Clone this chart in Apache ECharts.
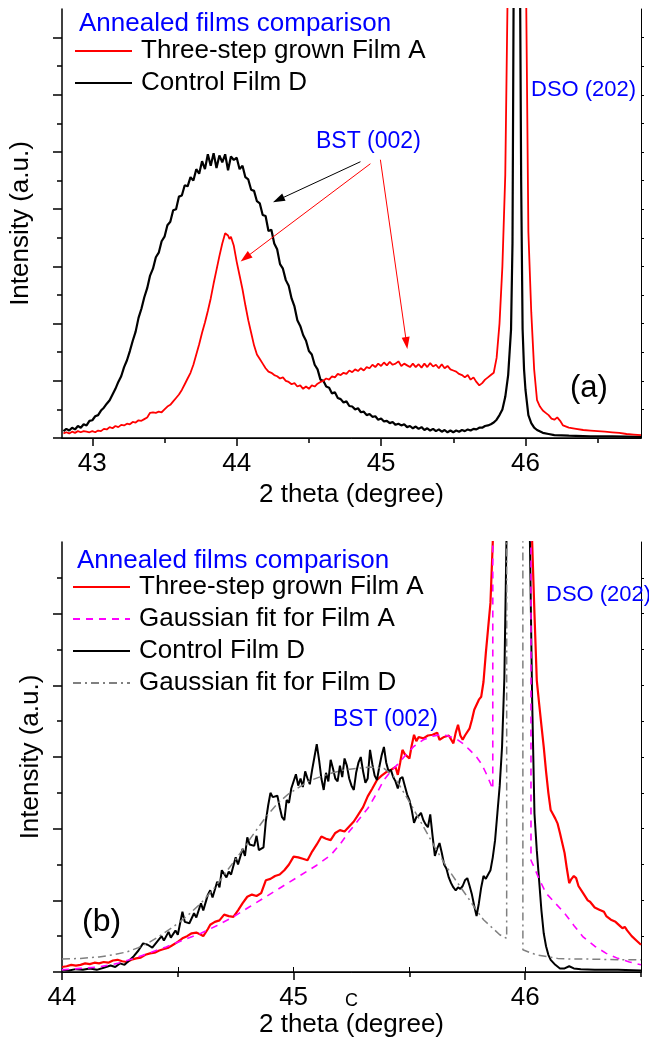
<!DOCTYPE html>
<html>
<head>
<meta charset="utf-8">
<title>Annealed films comparison</title>
<script src="https://cdn.jsdelivr.net/npm/echarts@6/dist/echarts.min.js"></script>
<style>
  html, body { margin: 0; padding: 0; background: #fff; }
  #chart { width: 649px; height: 1040px; }
</style>
</head>
<body>
<div id="chart"></div>
<script>
// ---- panel (a): [2 theta, intensity] ----
const filmD_a = [
  [42.80,0.12],[42.82,0.16],[42.84,0.13],[42.86,0.18],[42.88,0.15],[42.90,0.21],[42.92,0.18],[42.94,0.24],
  [42.96,0.22],[42.98,0.30],[43.00,0.31],[43.02,0.38],[43.04,0.40],[43.06,0.48],[43.08,0.53],[43.10,0.60],
  [43.12,0.66],[43.14,0.76],[43.16,0.86],[43.18,0.98],[43.20,1.08],[43.22,1.24],[43.24,1.36],[43.26,1.52],
  [43.28,1.70],[43.30,1.86],[43.32,2.10],[43.34,2.26],[43.36,2.46],[43.38,2.62],[43.40,2.84],[43.42,2.96],
  [43.44,3.16],[43.46,3.24],[43.48,3.44],[43.50,3.52],[43.52,3.72],[43.54,3.78],[43.56,3.98],[43.58,4.00],
  [43.60,4.22],[43.62,4.24],[43.64,4.42],[43.66,4.40],[43.68,4.56],[43.70,4.50],[43.72,4.70],[43.74,4.62],
  [43.76,4.84],[43.78,4.70],[43.80,4.96],[43.82,4.76],[43.84,4.98],[43.86,4.72],[43.88,4.94],[43.90,4.82],
  [43.92,4.96],[43.94,4.68],[43.96,4.92],[43.98,4.86],[44.00,4.90],[44.02,4.70],[44.04,4.76],[44.06,4.56],
  [44.08,4.52],[44.10,4.34],[44.12,4.32],[44.14,4.14],[44.16,4.10],[44.18,3.90],[44.20,3.88],[44.22,3.62],
  [44.24,3.64],[44.26,3.40],[44.28,3.30],[44.30,3.04],[44.32,2.96],[44.34,2.76],[44.36,2.66],[44.38,2.44],
  [44.40,2.30],[44.42,2.06],[44.44,1.96],[44.46,1.80],[44.48,1.70],[44.50,1.52],[44.52,1.46],[44.54,1.28],
  [44.56,1.20],[44.58,1.02],[44.60,1.00],[44.62,0.90],[44.64,0.88],[44.66,0.78],[44.68,0.80],[44.70,0.70],
  [44.72,0.68],[44.74,0.62],[44.76,0.64],[44.78,0.56],[44.80,0.55],[44.82,0.50],[44.84,0.52],[44.86,0.45],
  [44.88,0.46],[44.90,0.40],[44.92,0.42],[44.94,0.37],[44.96,0.38],[44.98,0.32],[45.00,0.34],[45.02,0.29],
  [45.04,0.30],[45.06,0.26],[45.08,0.28],[45.10,0.23],[45.12,0.25],[45.14,0.22],[45.16,0.24],[45.18,0.19],
  [45.20,0.21],[45.22,0.17],[45.24,0.20],[45.26,0.16],[45.28,0.19],[45.30,0.14],[45.32,0.17],[45.34,0.13],
  [45.36,0.16],[45.38,0.12],[45.40,0.15],[45.42,0.11],[45.44,0.14],[45.46,0.10],[45.48,0.13],[45.50,0.10],
  [45.52,0.13],[45.54,0.11],[45.56,0.14],[45.58,0.12],[45.60,0.15],[45.62,0.13],[45.64,0.16],[45.66,0.15],
  [45.68,0.18],[45.70,0.18],[45.72,0.21],[45.74,0.22],[45.76,0.24],[45.78,0.27],[45.80,0.32],[45.82,0.40],
  [45.84,0.50],[45.86,0.72],[45.88,1.10],[45.90,1.90],[45.91,3.4],[45.92,9],[45.94,30],[45.96,9],
  [45.97,4.5],[45.98,1.9],[45.99,1.2],[46.00,0.84],[46.02,0.40],[46.04,0.26],[46.06,0.18],[46.08,0.14],
  [46.12,0.09],[46.16,0.07],[46.20,0.05],[46.30,0.04],[46.45,0.03],[46.60,0.03],[46.80,0.02]
];
const filmA_a = [
  [42.80,0.08],[42.82,0.10],[42.84,0.08],[42.86,0.11],[42.88,0.09],[42.90,0.12],[42.92,0.10],[42.94,0.12],
  [42.96,0.11],[42.98,0.10],[43.00,0.12],[43.02,0.10],[43.04,0.13],[43.06,0.12],[43.08,0.16],[43.10,0.15],
  [43.12,0.19],[43.14,0.17],[43.16,0.21],[43.18,0.19],[43.20,0.23],[43.22,0.22],[43.24,0.25],[43.26,0.24],
  [43.28,0.28],[43.30,0.27],[43.32,0.31],[43.34,0.30],[43.36,0.33],[43.38,0.36],[43.40,0.44],[43.42,0.45],
  [43.44,0.44],[43.46,0.46],[43.48,0.45],[43.50,0.50],[43.52,0.55],[43.54,0.58],[43.56,0.64],[43.58,0.70],
  [43.60,0.76],[43.62,0.84],[43.64,0.94],[43.66,1.04],[43.68,1.14],[43.70,1.28],[43.72,1.46],[43.74,1.64],
  [43.76,1.84],[43.78,2.02],[43.80,2.22],[43.82,2.44],[43.84,2.70],[43.86,2.94],[43.88,3.18],[43.90,3.40],
  [43.92,3.58],[43.93,3.61],[43.94,3.54],[43.95,3.48],[43.96,3.52],[43.98,3.36],[44.00,3.08],[44.02,2.84],
  [44.04,2.60],[44.06,2.32],[44.08,2.06],[44.10,1.84],[44.12,1.62],[44.14,1.46],[44.16,1.38],[44.18,1.30],
  [44.20,1.22],[44.22,1.16],[44.24,1.14],[44.26,1.10],[44.28,1.08],[44.30,1.04],[44.32,1.06],[44.34,1.00],
  [44.36,0.98],[44.38,0.94],[44.40,0.96],[44.42,0.90],[44.44,0.92],[44.46,0.86],[44.48,0.90],[44.50,0.86],
  [44.52,0.92],[44.54,0.90],[44.56,0.95],[44.58,0.98],[44.60,1.00],[44.62,1.04],[44.64,1.02],[44.66,1.08],
  [44.68,1.06],[44.70,1.12],[44.72,1.10],[44.74,1.14],[44.76,1.12],[44.78,1.18],[44.80,1.15],[44.82,1.20],
  [44.84,1.17],[44.86,1.22],[44.88,1.18],[44.90,1.24],[44.92,1.22],[44.94,1.28],[44.96,1.24],[44.98,1.30],
  [45.00,1.26],[45.02,1.32],[45.04,1.27],[45.06,1.33],[45.08,1.28],[45.10,1.30],[45.12,1.34],[45.14,1.26],
  [45.16,1.30],[45.18,1.27],[45.20,1.24],[45.22,1.30],[45.24,1.24],[45.26,1.29],[45.28,1.23],[45.30,1.30],
  [45.32,1.24],[45.34,1.31],[45.36,1.25],[45.38,1.28],[45.40,1.22],[45.42,1.29],[45.44,1.22],[45.46,1.26],
  [45.48,1.20],[45.50,1.18],[45.52,1.16],[45.54,1.12],[45.56,1.10],[45.58,1.06],[45.60,1.10],[45.62,1.02],
  [45.64,1.06],[45.66,0.98],[45.68,0.92],[45.70,0.96],[45.72,1.02],[45.74,1.06],[45.76,1.10],[45.78,1.14],
  [45.80,1.40],[45.82,2.0],[45.84,3.0],[45.86,4.6],[45.88,8.5],[45.94,40],[46.00,9],[46.02,3.6],
  [46.04,2.2],[46.06,1.2],[46.08,0.66],[46.10,0.55],[46.12,0.48],[46.14,0.44],[46.16,0.40],[46.18,0.34],
  [46.20,0.32],[46.22,0.36],[46.24,0.30],[46.26,0.22],[46.30,0.18],[46.35,0.16],[46.40,0.14],[46.45,0.13],
  [46.50,0.12],[46.55,0.11],[46.60,0.10],[46.65,0.09],[46.70,0.07],[46.75,0.06],[46.80,0.05]
];

// ---- panel (b) ----
const filmA_b = [
  [44.00,0.07],[44.02,0.08],[44.04,0.10],[44.06,0.09],[44.08,0.10],[44.10,0.12],[44.12,0.11],[44.14,0.13],
  [44.16,0.12],[44.18,0.14],[44.20,0.13],[44.22,0.16],[44.24,0.17],[44.26,0.15],[44.28,0.14],[44.30,0.17],
  [44.32,0.19],[44.34,0.20],[44.36,0.24],[44.38,0.26],[44.40,0.27],[44.42,0.30],[44.44,0.32],[44.46,0.34],
  [44.48,0.38],[44.50,0.42],[44.52,0.47],[44.54,0.50],[44.56,0.54],[44.58,0.55],[44.60,0.52],[44.61,0.50],
  [44.63,0.60],[44.64,0.66],[44.66,0.70],[44.68,0.72],[44.70,0.80],[44.72,0.78],[44.74,0.77],[44.76,0.86],
  [44.78,0.96],[44.80,1.05],[44.82,1.08],[44.84,1.06],[44.86,1.10],[44.88,1.28],[44.90,1.30],[44.92,1.34],
  [44.94,1.36],[44.96,1.42],[44.98,1.50],[45.00,1.61],[45.02,1.60],[45.04,1.58],[45.06,1.56],[45.08,1.68],
  [45.10,1.78],[45.12,1.89],[45.14,1.86],[45.16,1.84],[45.18,1.94],[45.20,1.98],[45.22,1.96],[45.24,2.03],
  [45.26,2.10],[45.28,2.20],[45.30,2.30],[45.32,2.45],[45.34,2.56],[45.36,2.68],[45.38,2.74],[45.40,2.79],
  [45.42,2.82],[45.44,2.86],[45.45,2.75],[45.46,2.92],[45.47,3.10],[45.48,3.04],[45.50,2.98],[45.51,3.16],
  [45.52,3.31],[45.53,3.22],[45.54,3.28],[45.56,3.26],[45.58,3.30],[45.60,3.31],[45.62,3.34],[45.63,3.24],
  [45.65,3.28],[45.67,3.30],[45.69,3.19],[45.70,3.34],[45.71,3.45],[45.72,3.30],[45.73,3.24],[45.74,3.30],
  [45.76,3.40],[45.77,3.52],[45.78,3.66],[45.80,3.80],[45.81,3.84],[45.82,4.05],[45.83,4.45],[45.84,4.80],
  [45.85,5.15],[45.86,6.0],[45.88,9],[45.95,40],[46.02,9],[46.03,6.0],[46.04,5.0],[46.05,4.07],
  [46.06,3.75],[46.07,3.44],[46.08,3.14],[46.09,2.80],[46.10,2.50],[46.11,2.26],[46.12,2.20],[46.13,2.14],
  [46.14,2.07],[46.15,1.94],[46.16,1.80],[46.17,1.66],[46.18,1.44],[46.19,1.24],[46.20,1.30],[46.21,1.34],
  [46.22,1.31],[46.23,1.20],[46.25,1.10],[46.27,1.00],[46.28,0.98],[46.30,0.90],[46.32,0.87],[46.34,0.84],
  [46.35,0.78],[46.37,0.73],[46.39,0.70],[46.41,0.64],[46.42,0.61],[46.43,0.63],[46.44,0.58],[46.46,0.50],
  [46.48,0.44],[46.50,0.38]
];
const fitA_b = [
  [44.00,0.03],[44.08,0.05],[44.16,0.07],[44.24,0.12],[44.31,0.19],[44.38,0.27],[44.45,0.35],[44.52,0.44],
  [44.60,0.54],[44.67,0.65],[44.74,0.77],[44.81,0.91],[44.88,1.05],[44.95,1.19],[45.03,1.35],[45.10,1.49],
  [45.16,1.63],[45.20,1.78],[45.24,1.96],[45.28,2.12],[45.32,2.28],[45.36,2.50],[45.39,2.68],[45.42,2.80],
  [45.45,2.90],[45.49,3.05],[45.52,3.15],[45.56,3.24],[45.60,3.29],[45.63,3.31],[45.66,3.30],[45.70,3.26],
  [45.73,3.19],[45.76,3.10],[45.79,3.00],[45.81,2.91],[45.83,2.78],[45.85,2.63],[45.86,2.55],[45.861,40],
  [46.024,40],[46.025,1.56],[46.04,1.45],[46.06,1.30],[46.09,1.10],[46.13,0.96],[46.17,0.82],[46.21,0.65],
  [46.25,0.49],[46.30,0.36],[46.35,0.26],[46.40,0.19],[46.45,0.14],[46.50,0.10]
];
const filmD_b = [
  [44.00,0.03],[44.03,0.02],[44.06,0.04],[44.09,0.03],[44.12,0.05],[44.15,0.03],[44.18,0.06],[44.21,0.09],
  [44.23,0.07],[44.25,0.12],[44.27,0.10],[44.29,0.16],[44.31,0.22],[44.33,0.30],[44.35,0.40],[44.37,0.38],
  [44.39,0.34],[44.41,0.42],[44.43,0.50],[44.44,0.44],[44.46,0.56],[44.47,0.48],[44.49,0.58],[44.50,0.52],
  [44.52,0.84],[44.53,0.70],[44.55,0.68],[44.57,0.82],[44.58,0.76],[44.60,0.96],[44.61,0.86],[44.63,1.08],
  [44.64,1.14],[44.65,1.04],[44.67,1.26],[44.68,1.18],[44.69,1.42],[44.71,1.32],[44.72,1.40],[44.73,1.36],
  [44.75,1.60],[44.76,1.50],[44.78,1.72],[44.79,1.62],[44.80,1.88],[44.81,1.78],[44.83,1.76],[44.84,1.90],
  [44.85,1.70],[44.87,1.74],[44.88,2.10],[44.89,2.32],[44.90,2.50],[44.91,2.44],[44.93,2.46],[44.94,2.30],
  [44.95,2.16],[44.96,2.12],[44.97,2.40],[44.98,2.36],[44.99,2.56],[45.01,2.76],[45.02,2.60],[45.03,2.70],
  [45.04,2.58],[45.05,2.80],[45.06,2.70],[45.07,2.62],[45.08,2.82],[45.09,3.00],[45.10,3.18],[45.11,2.96],
  [45.12,2.70],[45.13,2.54],[45.14,2.78],[45.15,2.66],[45.16,2.96],[45.17,2.84],[45.18,2.70],[45.19,2.66],
  [45.20,2.88],[45.21,2.72],[45.22,2.98],[45.23,2.88],[45.24,2.70],[45.25,2.60],[45.26,2.54],[45.27,2.78],
  [45.28,2.92],[45.29,3.00],[45.30,2.80],[45.31,2.64],[45.32,2.70],[45.33,3.10],[45.34,2.90],[45.35,2.74],
  [45.36,2.68],[45.37,2.86],[45.38,3.02],[45.39,3.14],[45.40,2.92],[45.41,2.80],[45.42,2.82],[45.43,2.72],
  [45.44,2.66],[45.45,2.56],[45.46,2.70],[45.47,2.72],[45.48,2.60],[45.49,2.48],[45.50,2.40],[45.51,2.26],
  [45.52,2.08],[45.53,2.16],[45.54,2.18],[45.55,2.22],[45.56,2.12],[45.57,2.06],[45.58,2.02],[45.59,2.20],
  [45.60,1.90],[45.61,1.62],[45.62,1.72],[45.63,1.80],[45.64,1.66],[45.65,1.50],[45.66,1.44],[45.67,1.32],
  [45.68,1.24],[45.69,1.18],[45.70,1.14],[45.71,1.18],[45.72,1.16],[45.73,1.20],[45.74,1.28],[45.75,1.31],
  [45.76,1.20],[45.77,1.08],[45.78,0.92],[45.79,0.78],[45.80,0.96],[45.81,1.18],[45.82,1.34],[45.83,1.30],
  [45.84,1.36],[45.85,1.42],[45.86,1.60],[45.87,1.84],[45.88,2.22],[45.89,2.60],[45.90,3.14],[45.91,4.10],
  [45.92,6.2],[45.94,30],[45.98,30],[46.01,9],[46.02,6.1],[46.03,3.8],[46.04,2.21],[46.05,1.70],
  [46.06,1.28],[46.07,0.86],[46.08,0.54],[46.09,0.36],[46.10,0.24],[46.11,0.17],[46.13,0.10],[46.15,0.05],
  [46.17,0.05],[46.19,0.08],[46.21,0.05],[46.24,0.04],[46.30,0.03],[46.40,0.03],[46.50,0.02]
];
const fitD_b = [
  [44.00,0.18],[44.08,0.19],[44.16,0.21],[44.22,0.24],[44.28,0.28],[44.33,0.34],[44.38,0.42],[44.43,0.52],
  [44.48,0.63],[44.54,0.78],[44.60,0.96],[44.66,1.18],[44.71,1.40],[44.77,1.66],[44.83,1.94],[44.88,2.16],
  [44.93,2.35],[44.98,2.49],[45.03,2.59],[45.07,2.67],[45.12,2.73],[45.17,2.78],[45.22,2.82],[45.27,2.84],
  [45.33,2.86],[45.39,2.84],[45.43,2.74],[45.46,2.59],[45.51,2.32],[45.56,2.03],[45.61,1.74],[45.66,1.47],
  [45.70,1.28],[45.75,1.05],[45.79,0.86],[45.82,0.73],[45.86,0.61],[45.89,0.52],[45.92,0.47],[45.921,40],
  [45.989,40],[45.99,0.31],[46.03,0.26],[46.05,0.24],[46.10,0.21],[46.14,0.19],[46.20,0.18],[46.28,0.18],
  [46.40,0.17],[46.50,0.17]
];

// ---- axes: ranges and tick values ----
const xRangeA = [42.79, 46.8];
const xRangeB = [44, 46.5];
const yMaxA = 7.5;
const yMaxB = 6;
const xMajorA = [43, 44, 45, 46];
const xMinorA = [43.5, 44.5, 45.5, 46.5];
const xMajorB = [44, 45, 46];
const xMinorB = [44.5, 45.5, 46.5];
const xTopB = [44.5, 45, 45.5, 46];
const yMajorA = [0, 1, 2, 3, 4, 5, 6, 7];
const yMinorA = [0.5, 1.5, 2.5, 3.5, 4.5, 5.5, 6.5];
const yRightA = [0.5, 1, 1.5, 2, 2.5, 3, 3.5, 4, 4.5, 5, 5.5, 6, 6.5, 7];
const yMajorB = [0, 1, 2, 3, 4, 5];
const yMinorB = [0.5, 1.5, 2.5, 3.5, 4.5, 5.5];
const yRightB = [0.5, 1, 1.5, 2, 2.5, 3, 3.5, 4, 4.5, 5, 5.5];

const FONT = '"Liberation Sans", Arial, sans-serif';
const BLUE = '#0000ff';

function xAxes(grid, range, major, minor, top, nameGap) {
  return [{
    gridIndex: grid, type: 'value', position: 'bottom', min: range[0], max: range[1],
    axisLine: { lineStyle: { color: '#000', width: 1.5 } },
    axisTick: { customValues: major, length: 8, lineStyle: { color: '#000', width: 1.5 } },
    axisLabel: { customValues: major, fontSize: 26, color: '#000', fontFamily: FONT, margin: 13 },
    splitLine: { show: false },
    name: '2 theta (degree)', nameLocation: 'middle', nameGap: nameGap,
    nameTextStyle: { fontSize: 26, color: '#000', fontFamily: FONT }
  }, {
    gridIndex: grid, type: 'value', position: 'bottom', min: range[0], max: range[1],
    axisLine: { show: false },
    axisTick: { customValues: minor, length: 5, lineStyle: { color: '#000', width: 1.5 } },
    axisLabel: { show: false }, splitLine: { show: false }
  }, {
    gridIndex: grid, type: 'value', position: 'top', min: range[0], max: range[1],
    axisLine: { lineStyle: { color: '#000', width: 1 } },
    axisTick: top ? { customValues: top, length: 5, lineStyle: { color: '#000' } } : { show: false },
    axisLabel: { show: false }, splitLine: { show: false }
  }];
}

function yAxes(grid, max, major, minor, right, nameGap) {
  return [{
    gridIndex: grid, type: 'value', position: 'left', min: 0, max: max,
    axisLine: { show: true, lineStyle: { color: '#000', width: 1.5 } },
    axisTick: { show: true, customValues: major, length: 9, lineStyle: { color: '#000', width: 1.5 } },
    axisLabel: { show: false }, splitLine: { show: false },
    name: 'Intensity (a.u.)', nameLocation: 'middle', nameGap: nameGap,
    nameTextStyle: { fontSize: 26, color: '#000', fontFamily: FONT }
  }, {
    gridIndex: grid, type: 'value', position: 'left', min: 0, max: max,
    axisLine: { show: false },
    axisTick: { show: true, customValues: minor, length: 5, lineStyle: { color: '#000', width: 1.5 } },
    axisLabel: { show: false }, splitLine: { show: false }
  }, {
    gridIndex: grid, type: 'value', position: 'right', min: 0, max: max,
    axisLine: { show: true, lineStyle: { color: '#000', width: 1 } },
    axisTick: { show: true, customValues: right, length: 3, lineStyle: { color: '#000' } },
    axisLabel: { show: false }, splitLine: { show: false }
  }];
}

function lineSeries(name, data, xi, yi, color, width, type, extra) {
  return Object.assign({
    name: name, type: 'line', data: data, xAxisIndex: xi, yAxisIndex: yi,
    showSymbol: false, symbol: 'none', clip: true,
    lineStyle: { color: color, width: width, type: type || 'solid' },
    itemStyle: { color: color }
  }, extra || {});
}

function arrow(from, to) {
  return [{ coord: from }, { coord: to }];
}

const legendBase = {
  orient: 'vertical', padding: 0, itemGap: 6,
  itemWidth: 57, itemHeight: 14, selectedMode: false,
  itemStyle: { opacity: 0 },
  textStyle: { fontSize: 26, color: '#000', fontFamily: FONT, padding: [0, 0, 0, 4] }
};

const chart = echarts.init(document.getElementById('chart'));
chart.setOption({
  animation: false,
  backgroundColor: '#fff',
  textStyle: { fontFamily: FONT },
  grid: [
    { left: 62, top: 9, right: 8, height: 429 },
    { left: 62, top: 542, right: 8, height: 430 }
  ],
  xAxis: xAxes(0, xRangeA, xMajorA, xMinorA, null, 44).concat(xAxes(1, xRangeB, xMajorB, xMinorB, xTopB, 40)),
  yAxis: yAxes(0, yMaxA, yMajorA, yMinorA, yRightA, 28).concat(yAxes(1, yMaxB, yMajorB, yMinorB, yRightB, 18)),
  legend: [
    Object.assign({}, legendBase, {
      data: ['Three-step grown Film A', 'Control Film D'],
      left: 74, top: 38
    }),
    Object.assign({}, legendBase, {
      data: ['Three-step grown Film A', 'Gaussian fit for Film A', 'Control Film D', 'Gaussian fit for Film D'],
      left: 72, top: 574
    })
  ],
  series: [
    lineSeries('Control Film D', filmD_a, 0, 0, '#000000', 2.2, 'solid', {
      markLine: {
        silent: true, symbol: ['none', 'triangle'], symbolSize: [8, 12],
        label: { show: false }, lineStyle: { color: '#000', width: 1, type: 'solid' },
        data: [arrow([44.857, 4.83], [44.289, 4.165])]
      }
    }),
    lineSeries('Three-step grown Film A', filmA_a, 0, 0, '#ff0000', 1.8, 'solid', {
      markLine: {
        silent: true, symbol: ['none', 'triangle'], symbolSize: [8, 12],
        label: { show: false }, lineStyle: { color: '#ff0000', width: 1, type: 'solid' },
        data: [arrow([44.926, 4.795], [44.06, 3.15]), arrow([44.995, 4.865], [45.176, 1.66])]
      }
    }),
    lineSeries('Three-step grown Film A', filmA_b, 3, 3, '#ff0000', 2.2),
    lineSeries('Control Film D', filmD_b, 3, 3, '#000000', 2),
    lineSeries('Gaussian fit for Film A', fitA_b, 3, 3, '#ff00ff', 1.6, [7, 6]),
    lineSeries('Gaussian fit for Film D', fitD_b, 3, 3, '#808080', 1.5, [8, 4, 2, 4])
  ],
  graphic: [
    { type: 'text', x: 79, y: 24, z: 100, style: { text: 'Annealed films comparison', font: '26px ' + FONT, fill: BLUE, verticalAlign: 'middle' } },
    { type: 'text', x: 316, y: 142, z: 100, style: { text: 'BST (002)', font: '23px ' + FONT, fill: BLUE, verticalAlign: 'middle' } },
    { type: 'text', x: 531, y: 90, z: 100, style: { text: 'DSO (202)', font: '22px ' + FONT, fill: BLUE, verticalAlign: 'middle' } },
    { type: 'text', x: 570, y: 388, z: 100, style: { text: '(a)', font: '31px ' + FONT, fill: '#000', verticalAlign: 'middle' } },
    { type: 'text', x: 77, y: 561, z: 100, style: { text: 'Annealed films comparison', font: '26px ' + FONT, fill: BLUE, verticalAlign: 'middle' } },
    { type: 'text', x: 333, y: 720, z: 100, style: { text: 'BST (002)', font: '23px ' + FONT, fill: BLUE, verticalAlign: 'middle' } },
    { type: 'text', x: 546, y: 595, z: 100, style: { text: 'DSO (202)', font: '22px ' + FONT, fill: BLUE, verticalAlign: 'middle' } },
    { type: 'text', x: 82, y: 922, z: 100, style: { text: '(b)', font: '32px ' + FONT, fill: '#000', verticalAlign: 'middle' } },
    { type: 'text', x: 345, y: 1001, z: 100, style: { text: 'C', font: '18px ' + FONT, fill: '#000', verticalAlign: 'middle' } }
  ]
});
</script>
</body>
</html>
